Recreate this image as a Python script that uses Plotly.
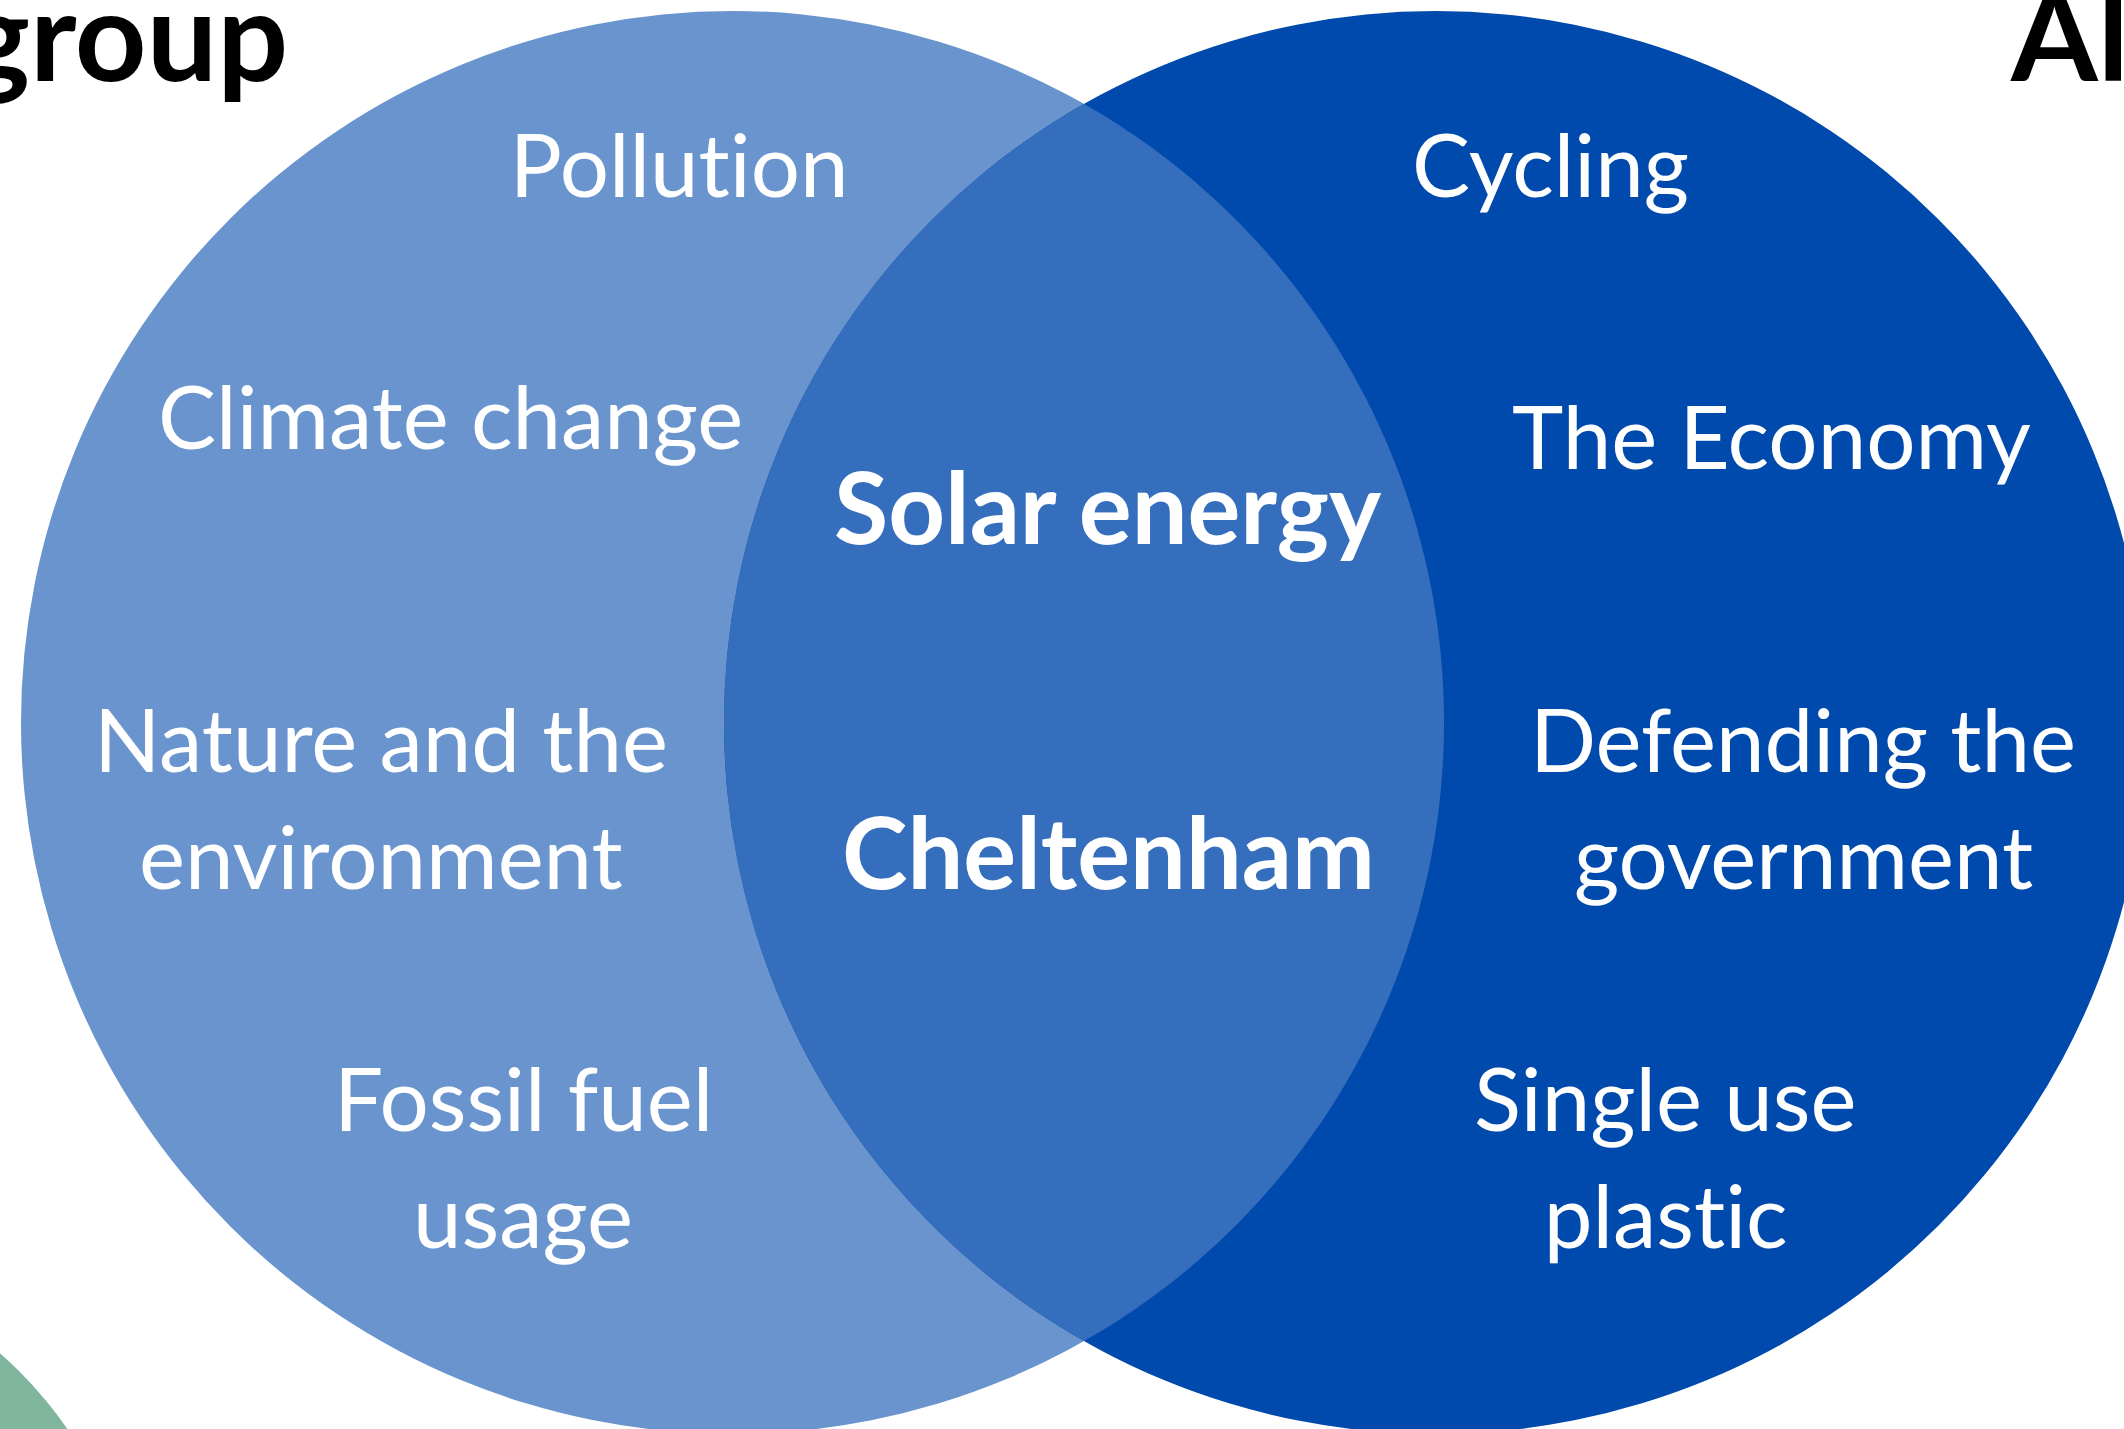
import numpy as np
import plotly.graph_objects as go

# ---- data ----
set_titles = ["group", "Al"]
left_items = ["Pollution", "Climate change", "Nature and the\nenvironment", "Fossil fuel\nusage"]
shared_items = ["Solar energy", "Cheltenham"]
right_items = ["Cycling", "The Economy", "Defending the\ngovernment", "Single use\nplastic"]

# ---- layout (pixel space) ----
W, H = 2124, 1429
circle_centers = [(732.5, 722.5), (1435.5, 722.5)]
circle_r = 711.5
left_pos = [(679, 163), (450, 415), (381, 738), (523, 1097)]
shared_pos = [(1108, 505), (1108, 850)]
right_pos = [(1550, 163), (1771, 435), (1803, 738), (1665, 1097)]
line_gap = 117

C_LEFT = "#6A94CD"
C_RIGHT = "#004AAD"
C_BOTH = "#356EBD"
C_GREEN = "#80B69E"
FONT = "Lato"

fig = go.Figure()
shapes = []

# green decorative circle bottom-left
gx, gy, gr = -278, 1668, 420
shapes.append(dict(type="circle", xref="x", yref="y", x0=gx - gr, x1=gx + gr, y0=gy - gr, y1=gy + gr,
                   fillcolor=C_GREEN, line=dict(width=0), layer="below"))

(lx, ly), (rx, ry) = circle_centers
for (cx, cy), col in zip(circle_centers, [C_LEFT, C_RIGHT]):
    shapes.append(dict(type="circle", xref="x", yref="y", x0=cx - circle_r, x1=cx + circle_r,
                       y0=cy - circle_r, y1=cy + circle_r, fillcolor=col, line=dict(width=0), layer="below"))

# lens (intersection) computed from the two circles
d = rx - lx
a = d / 2
h = np.sqrt(circle_r ** 2 - a ** 2)
ang = np.arctan2(h, a)
t1 = np.linspace(-ang, ang, 200)
p1 = np.c_[lx + circle_r * np.cos(t1), ly + circle_r * np.sin(t1)]
t2 = np.linspace(np.pi - ang, np.pi + ang, 200)
p2 = np.c_[rx + circle_r * np.cos(t2), ry + circle_r * np.sin(t2)]
pts = np.vstack([p1, p2])
path = "M " + " L ".join(f"{x:.2f},{y:.2f}" for x, y in pts) + " Z"
shapes.append(dict(type="path", xref="x", yref="y", path=path, fillcolor=C_BOTH, line=dict(width=0), layer="below"))

annotations = []


def add_label(text, pos, size, bold=False):
    x, y = pos
    for i, line in enumerate(text.split("\n")):
        t = f"<b>{line}</b>" if bold else line
        annotations.append(dict(x=x, y=y + i * line_gap, xref="x", yref="y", text=t, showarrow=False,
                                xanchor="center", yanchor="middle",
                                font=dict(family=FONT, size=size, color="white")))


for t, p in zip(left_items, left_pos):
    add_label(t, p, 87)
for t, p in zip(right_items, right_pos):
    add_label(t, p, 87)
for t, p in zip(shared_items, shared_pos):
    add_label(t, p, 99, bold=True)

# set titles (cut off at page edges, as in the source)
annotations.append(dict(x=290, y=80, xref="x", yref="y", text="<b>" + set_titles[0] + "</b>", showarrow=False,
                        xanchor="right", yanchor="bottom", yshift=-30,
                        font=dict(family=FONT, size=125, color="black")))
annotations.append(dict(x=2008, y=80, xref="x", yref="y", text="<b>" + set_titles[1] + "</b>", showarrow=False,
                        xanchor="left", yanchor="bottom", yshift=-30,
                        font=dict(family=FONT, size=125, color="black")))

fig.add_trace(go.Scatter(x=[0, W], y=[0, H], mode="markers", marker=dict(opacity=0), hoverinfo="skip",
                         showlegend=False))

fig.update_layout(
    width=W, height=H, margin=dict(l=0, r=0, t=0, b=0),
    paper_bgcolor="white", plot_bgcolor="white",
    xaxis=dict(range=[0, W], visible=False, fixedrange=True),
    yaxis=dict(range=[H, 0], visible=False, fixedrange=True),
    shapes=shapes, annotations=annotations, showlegend=False,
)

post = (
    "document.body.style.margin='0';document.body.style.overflow='hidden';"
    "var s=document.createElement('style');"
    "s.textContent='text{font-variant-ligatures:none !important;font-feature-settings:\"liga\" 0,\"clig\" 0 !important;}';"
    "document.head.appendChild(s);"
)
fig.write_html("out.html", post_script=post, config={"displayModeBar": False})
